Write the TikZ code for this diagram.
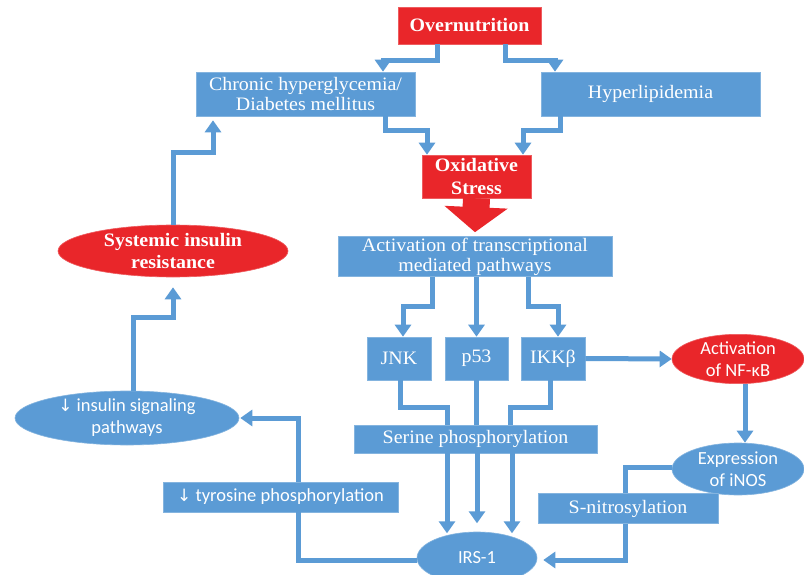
\documentclass[tikz,border=0pt]{standalone}
\usepackage{fontspec}
\setmainfont{Liberation Serif}[FakeStretch=1.05]
\newfontfamily\calib{Carlito}
\newfontfamily\dejavu{DejaVu Sans}
\usetikzlibrary{shapes.geometric,arrows.meta}
\definecolor{bl}{RGB}{91,155,213}
\definecolor{rd}{RGB}{233,38,42}
\tikzset{
  box/.style={fill=bl, draw=bl!75!white, line width=0.6pt, text=white, align=center, inner sep=0pt,
    font=\fontsize{19}{20}\selectfont},
  redbox/.style={box, fill=rd, draw=rd!75!white, font=\fontsize{19}{23}\selectfont\bfseries},
  ell/.style={ellipse, fill=bl, draw=bl!75!white, line width=0.6pt, text=white, align=center, inner sep=0pt,
    font=\fontsize{18.5}{22}\selectfont\calib},
  redell/.style={ell, fill=rd, draw=rd!75!white},
  ln/.style={draw=bl, line width=5pt},
  arr/.style={ln, -{Triangle[width=16pt,length=12pt]}},
  darr/.style={font=\dejavu\fontsize{17}{20}\selectfont},
}
\begin{document}
\begin{tikzpicture}[x=1pt,y=-1pt]
\clip (0,0) rectangle (804,575);
\fill[white] (0,0) rectangle (804,575);
% nodes
\node[redbox, minimum width=143pt, minimum height=37pt] (over) at (469.5,25.5) {Overnutrition};
\node[box, minimum width=219pt, minimum height=44pt] (chron) at (305.5,94) {Chronic hyperglycemia/\\Diabetes mellitus};
\node[box, minimum width=219pt, minimum height=44pt] (hyper) at (650.5,94) {Hyperlipidemia};
\node[redbox, minimum width=109pt, minimum height=43pt] (oxi) at (476.5,176.5) {Oxidative\\Stress};
\node[box, minimum width=274pt, minimum height=40pt] (act) at (475,256.5) {Activation of transcriptional\\mediated pathways};
\node[box, minimum width=64pt, minimum height=43pt] (jnk) at (399,358.5) {JNK};
\node[box, minimum width=63pt, minimum height=43pt] (p53) at (476.5,358.5) {p53};
\node[box, minimum width=64pt, minimum height=43pt] (ikk) at (553,358.5) {IKKβ};
\node[box, minimum width=243pt, minimum height=28pt] (ser) at (475.5,439) {Serine phosphorylation};
\node[ell, minimum width=120pt, minimum height=52pt] (irs) at (477,558) {IRS-1};
\node[redell, minimum width=132pt, minimum height=48pt] (nfkb) at (738,359) {Activation\\of NF-κB};
\node[ell, minimum width=132pt, minimum height=52pt] (inos) at (738,469) {Expression\\of iNOS};
\node[box, minimum width=180pt, minimum height=30pt] (snit) at (628,508.5) {S-nitrosylation};
\node[box, minimum width=235pt, minimum height=30pt, font=\fontsize{18.5}{20}\selectfont\calib] (tyro) at (280.5,497) {{\dejavu\fontsize{17}{20}\selectfont ↓} tyrosine phosphorylation};
\node[ell, minimum width=224pt, minimum height=54pt] (insig) at (127,418) {{\dejavu\fontsize{17}{20}\selectfont ↓} insulin signaling\\pathways};
\node[redell, minimum width=230pt, minimum height=52pt, font=\fontsize{19}{22}\selectfont\bfseries] (sys) at (173,251) {Systemic insulin\\resistance};
% connectors
\draw[arr] ([xshift=-32.5pt]over.south) -- ++(0,16) -| ([xshift=77.5pt]chron.north);
\draw[arr] ([xshift=35.5pt]over.south) -- ++(0,16) -| ([xshift=-95.5pt]hyper.north);
\draw[arr] ([xshift=79.5pt]chron.south) -- ++(0,14) -| ([xshift=-49.5pt]oxi.north);
\draw[arr] ([xshift=-90.5pt]hyper.south) -- ++(0,14) -| ([xshift=46.5pt]oxi.north);
\draw[rd, line width=27pt, -{Triangle[width=62pt,length=25pt]}] (oxi.south) -- ([yshift=4pt]act.north);
\draw[arr] ([xshift=-43pt]act.south) -- ++(0,30) -| ([xshift=4pt]jnk.north);
\draw[arr] (p53.north |- act.south) -- (p53.north);
\draw[arr] ([xshift=53pt]act.south) -- ++(0,30) -| ([xshift=5pt]ikk.north);
\draw[arr] (ikk.east) -- (nfkb.west);
\draw[arr] ([xshift=7pt]nfkb.south) -- ([xshift=7pt]inos.north);
\draw[ln] ([xshift=1pt]jnk.south) -- ++(0,27) -| ([xshift=-28.5pt]ser.north);
\draw[ln] (p53.south) -- (p53.south |- ser.north);
\draw[ln] ([xshift=-3pt]ikk.south) -- ++(0,27) -| ([xshift=34.5pt]ser.north);
\draw[arr] ([xshift=-28.5pt]ser.south) -- ++(0,80);
\draw[arr] ([xshift=1.5pt]ser.south) -- ++(0,70);
\draw[arr] ([xshift=36.5pt]ser.south) -- ++(0,80);
\draw[ln] ([yshift=2pt]inos.west) -| ([xshift=-3pt]snit.north);
\draw[arr] ([xshift=-3pt]snit.south) |- ([xshift=6pt,yshift=-2pt]irs.east);
\draw[ln] ([yshift=-2pt]irs.west) -| ([xshift=17.5pt]tyro.south);
\draw[arr] ([xshift=17.5pt]tyro.north) |- ([xshift=1pt]insig.east);
\draw[arr] ([xshift=6pt]insig.north) -- ++(0,-73) -| ([yshift=-10pt]sys.south);
\draw[arr] (sys.north) -- ++(0,-72) -| ([xshift=-92.5pt,yshift=-4pt]chron.south);
\end{tikzpicture}
\end{document}
